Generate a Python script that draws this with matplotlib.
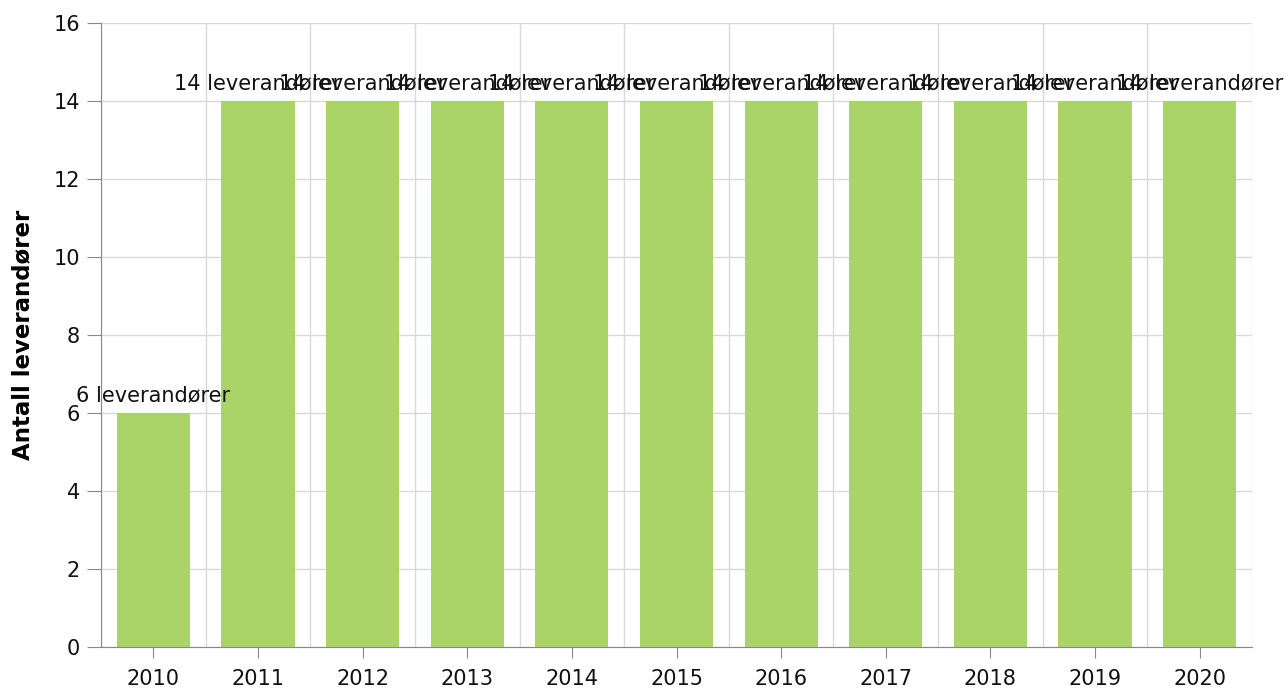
import numpy as np
import matplotlib.pyplot as plt

years = ["2010", "2011", "2012", "2013", "2014", "2015", "2016", "2017", "2018", "2019", "2020"]
antall = [6, 14, 14, 14, 14, 14, 14, 14, 14, 14, 14]
etiketter = [f"{v} leverandører" for v in antall]

fig = plt.figure(figsize=(12.88, 6.91), dpi=100)
ax = fig.add_axes([101 / 1288, 1 - 647 / 691, 1151 / 1288, 624 / 691])

x = np.arange(len(years))
ax.bar(x, antall, width=0.7, color="#abd468", zorder=2)

# etiketter over hver søyle (overlapper som i originalen)
for xi, v, lab in zip(x, antall, etiketter):
    ax.text(xi, v + 0.2, lab, ha="center", va="bottom", fontsize=15, color="#111111", zorder=3)

ax.set_xlim(-0.5, len(years) - 0.5)
ax.set_ylim(0, 16)
ax.set_yticks(range(0, 17, 2))
ax.set_xticks(x)
ax.set_xticklabels(years)
ax.set_xticks(np.arange(-0.5, len(years), 1), minor=True)

ax.grid(axis="y", color="#d9d9d9", linewidth=1, zorder=0)
ax.grid(axis="x", which="minor", color="#d9d9d9", linewidth=1, zorder=0)
ax.tick_params(axis="x", which="minor", length=0)
ax.tick_params(axis="both", which="major", labelsize=15, colors="#888888", labelcolor="#111111")
ax.tick_params(axis="y", length=10, pad=5)
ax.tick_params(axis="x", length=8, pad=8)

for s in ["top", "right"]:
    ax.spines[s].set_visible(False)
for s in ["left", "bottom"]:
    ax.spines[s].set_color("#888888")

ax.set_ylabel("Antall leverandører", fontsize=16.5, fontweight="bold", labelpad=14)

fig.savefig("out.png", dpi=100)
